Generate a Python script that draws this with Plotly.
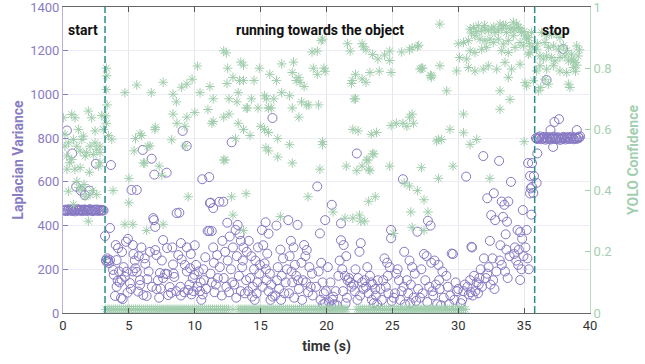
import plotly.graph_objects as go

# ---------------- data: Laplacian variance (t [s], value) ----------------
lap_start = [(0.05,470),(0.12,468),(0.2,473),(0.28,466),(0.36,471),(0.44,475),(0.52,469),(0.6,472),(0.68,467),
             (0.76,474),(0.84,470),(0.92,465),(1.0,472),(1.08,476),(1.16,468),(1.24,471),(1.32,469),(1.4,473),
             (1.48,466),(1.56,470),(1.64,474),(1.72,471),(1.8,467),(1.88,469),(1.96,472),(2.04,475),(2.12,468),
             (2.2,470),(2.28,466),(2.36,473),(2.44,471),(2.52,469),(2.6,474),(2.68,467),(2.76,470),(2.84,472),
             (2.92,468),(3.0,471),(3.08,469),
             (0.3,835),(0.7,730),(2.5,683),(1.0,578),(1.35,560),(2.0,560),(1.65,540)]

lap_run = [(3.19,352),(3.57,389),(3.26,242),(3.3,235),(3.35,250),(3.42,238),(3.57,242),(3.5,228),(3.64,677),(3.8,197),
           (3.95,78),(4.07,120),(4.07,242),(4.0,311),(3.85,175),
           (4.18,297),(4.48,279),(4.15,148),(4.3,140),(4.45,152),(4.7,166),(4.78,326),(4.93,339),(4.83,189),(4.4,69),
           (4.53,64),(4.9,93),(4.6,210),(4.25,190),
           (5.08,137),(5.3,311),(5.35,270),(5.45,240),(5.5,205),(5.6,563),(5.2,563),(5.3,190),(5.6,188),(5.84,150),
           (5.84,128),(5.7,98),(5.95,300),(5.15,110),(5.75,260),
           (6.05,746),(6.2,250),(6.5,190),(6.1,82),(6.35,78),(6.73,706),(6.93,633),(6.85,434),(6.9,425),(7.0,394),
           (6.6,280),(6.4,155),(6.75,120),(6.25,225),
           (7.0,288),(7.1,265),(7.36,183),(7.2,150),(7.6,160),(7.1,110),(7.4,112),(7.75,180),(7.9,178),(7.6,334),
           (7.9,297),(7.87,642),(7.98,82),(7.5,240),(7.3,70),
           (8.1,119),(8.3,300),(8.35,222),(8.4,180),(8.45,165),(8.63,457),(8.83,459),(8.95,320),(9.0,245),(8.9,120),
           (8.95,80),(8.2,92),(8.6,100),(8.75,265),
           (9.08,833),(9.39,764),(9.4,190),(9.25,220),(9.4,300),(9.7,270),(9.6,130),(9.9,100),(9.2,95),(9.5,105),
           (9.75,85),(9.65,205),(9.85,160),
           (10.0,310),(10.1,220),(9.97,175),(10.4,100),(10.6,85),(10.5,60),(10.57,612),(10.3,190),(10.45,140),
           (10.7,150),(10.85,110),(10.98,375),(10.8,255),(10.2,120),(10.65,200),
           (11.1,622),(11.15,503),(11.4,480),(11.2,505),(11.87,509),(11.1,376),(11.29,375),(11.4,300),(11.7,265),
           (11.2,180),(11.3,140),(11.5,95),(11.6,130),(11.9,210),(11.75,160),(11.45,230),
           (12.17,509),(12.47,413),(12.8,781),(12.1,330),(12.3,280),(12.5,240),(12.2,160),(12.4,120),(12.6,95),
           (12.75,200),(12.9,300),(12.85,140),(12.05,80),(12.65,350),
           (13.26,403),(13.1,380),(13.4,360),(13.5,330),(13.7,300),(13.2,260),(13.6,210),(13.35,170),(13.9,150),
           (13.0,130),(13.5,100),(13.8,90),(13.15,70),(13.65,240),(13.95,280),
           (14.1,330),(14.3,260),(14.5,200),(14.2,160),(14.4,120),(14.7,90),(14.6,240),(14.8,300),(14.9,180),
           (14.05,100),(14.35,75),(14.75,140),(14.55,60),(14.95,220),
           (15.38,415),(15.1,380),(15.9,892),(15.2,310),(15.5,272),(15.6,363),(15.3,227),(15.4,200),(15.7,180),
           (15.45,150),(15.8,130),(15.6,100),(15.9,75),(15.15,120),(15.75,60),
           (16.2,400),(16.5,290),(16.7,250),(16.3,210),(16.6,170),(16.9,140),(16.4,110),(16.8,90),(16.1,80),
           (16.55,60),(17.0,200),(16.25,150),
           (17.1,425),(17.8,403),(17.3,330),(17.5,300),(17.2,260),(17.6,220),(17.7,170),(17.4,140),(17.9,110),
           (17.15,90),(17.55,70),(17.85,150),(17.35,190),
           (18.3,311),(18.5,288),(18.4,260),(18.1,230),(18.7,210),(18.2,150),(18.45,140),(18.8,120),(18.6,95),
           (18.95,80),(18.15,60),(18.9,180),
           (19.3,579),(19.5,364),(19.9,425),(19.6,230),(19.4,190),(19.7,140),(19.8,90),(19.55,60),(19.9,45),
           (19.75,40),(19.2,120),(19.95,100),
           (20.4,495),(20.1,210),(20.3,140),(20.5,75),(20.2,50),(20.6,40),(20.8,35),(20.7,100),(20.45,60),
           (20.9,170),(21.0,240),(20.35,30),
           (21.1,410),(21.1,333),(21.3,311),(21.5,260),(21.2,200),(21.4,170),(21.6,150),(21.7,160),(21.8,140),
           (21.25,100),(21.55,70),(21.9,120),(21.45,45),
           (22.3,730),(22.5,280),(22.6,320),(22.2,200),(22.4,160),(22.7,140),(22.8,110),(22.15,100),(22.55,80),
           (22.9,150),(22.35,60),(22.05,130),
           (23.1,210),(23.3,170),(23.5,130),(23.7,110),(23.9,150),(23.2,90),(23.45,60),(23.6,45),(23.85,40),
           (23.0,120),(23.75,80),(23.4,140),
           (24.9,380),(24.9,342),(24.4,250),(24.6,230),(24.8,210),(24.3,150),(24.5,120),(24.7,90),(24.2,60),
           (24.95,55),(24.1,110),(24.65,170),
           (25.8,612),(25.9,280),(25.3,180),(25.5,150),(25.7,100),(25.6,60),(25.95,40),(25.2,90),(25.4,200),
           (25.85,120),(25.1,70),
           (26.9,372),(26.3,240),(26.5,210),(26.7,180),(26.4,130),(26.2,90),(26.6,70),(26.8,55),(26.1,150),
           (26.95,110),(26.35,45),
           (27.7,422),(27.9,400),(27.4,270),(27.6,260),(27.2,200),(27.5,150),(27.8,120),(27.3,90),(27.1,70),
           (27.65,50),(27.95,230),
           (28.2,240),(28.5,220),(28.8,190),(28.3,130),(28.6,110),(28.1,80),(28.4,40),(28.7,35),(28.9,70),
           (28.55,150),(28.05,100),
           (29.5,272),(29.6,270),(29.2,120),(29.4,80),(29.7,60),(29.9,100),(29.3,40),(29.8,140),(30.0,110),(29.1,170),
           (30.6,624),(31.0,303),(31.05,300),(30.4,100),(30.7,120),(30.9,150),(30.8,85),(30.3,60),(30.5,130),
           (30.95,95),(30.2,45),
           (31.9,718),(31.2,170),(31.4,140),(31.6,160),(31.8,120),(31.3,100),(31.5,90),(31.7,200),(31.1,80),
           (31.95,250),(31.55,130),
           (32.2,525),(32.7,548),(32.5,448),(32.8,425),(32.4,330),(32.6,250),(32.3,210),(32.9,190),(32.1,160),
           (32.45,130),(32.75,110),(32.2,180),(32.65,150),
           (33.1,696),(33.3,510),(33.5,495),(33.8,510),(33.4,440),(33.7,418),(33.6,360),(33.2,310),(33.65,290),
           (33.3,220),(33.15,240),(33.9,260),(33.55,190),(33.75,160),
           (34.0,600),(34.9,471),(34.5,380),(34.7,370),(34.85,340),(34.3,300),(34.6,290),(34.25,270),(34.55,220),
           (34.8,200),(34.7,151),(34.4,240),(34.95,260),
           (35.3,686),(35.45,627),(35.5,570),(35.45,547),(35.6,577),(35.75,627),(35.6,686),(35.7,549),(35.1,300),
           (35.25,250),(35.35,200),(35.55,450),(35.2,380)]

lap_stop = [(36.0,730),(35.95,595),(36.7,1066),(37.95,1208),(37.3,874),(37.65,887),(37.0,837),(39.0,837),(37.2,760),
            (35.9,800),(35.98,796),(36.06,804),(36.14,799),(36.22,808),(36.3,795),(36.38,802),(36.46,798),
            (36.54,806),(36.62,793),(36.7,801),(36.78,797),(36.86,805),(36.94,799),(37.02,794),(37.1,803),
            (37.18,798),(37.26,807),(37.34,796),(37.42,801),(37.5,795),(37.58,804),(37.66,799),(37.74,792),
            (37.82,802),(37.9,797),(37.98,806),(38.06,800),(38.14,794),(38.22,803),(38.3,798),(38.38,805),
            (38.46,796),(38.54,801),(38.62,807),(38.7,799),(38.78,795),(38.86,803),(38.94,800),(39.02,797),
            (39.1,805),(39.18,801),(39.25,808)]

# ---------------- data: YOLO confidence (t [s], confidence) ----------------
yolo_start = [(0.03,0.638),(0.66,0.649),(0.91,0.638),(1.92,0.66),(2.18,0.638),(2.94,0.645),(0.15,0.584),(0.41,0.556),
              (1.17,0.60),(1.55,0.578),(2.43,0.595),(2.43,0.556),(2.81,0.545),(3.06,0.60),(0.28,0.513),(0.66,0.502),
              (1.3,0.529),(1.8,0.524),(2.3,0.518),(2.81,0.524),(2.81,0.491),(1.3,0.475),(0.5,0.491),(1.05,0.545),
              (2.05,0.545),(2.56,0.535),(1.68,0.513),(1.43,0.567),(0.79,0.567),(0.15,0.545),(0.41,0.398),(1.05,0.43),
              (1.43,0.403),(1.68,0.38),(2.05,0.387),(2.56,0.387),(0.79,0.354),(1.92,0.30),(1.2,0.41),(1.6,0.42),
              (2.25,0.40),(0.3,0.47),(0.9,0.47),(2.0,0.46),(2.7,0.48)]

yolo_run = [(3.3,0.80),(3.28,0.73),(3.32,0.775),(3.35,0.68),(3.3,0.62),(3.45,0.58),(3.7,0.568),(3.8,0.40),(3.25,0.644),
            (4.7,0.72),(5.6,0.745),(6.7,0.72),(5.5,0.57),(5.85,0.586),(5.97,0.58),(5.4,0.53),(6.98,0.6),(6.6,0.546),
            (6.1,0.49),(6.2,0.49),(5.0,0.44),(7.3,0.48),(7.5,0.45),(5.0,0.36),(4.7,0.29),(5.3,0.29),(6.35,0.27),
            (7.6,0.29),(6.45,0.545),(7.0,0.607),
            (7.6,0.754),(8.35,0.715),(9.0,0.738),(9.4,0.748),(9.8,0.764),(10.2,0.807),(10.4,0.72),(11.15,0.74),
            (11.4,0.70),(11.0,0.665),(11.4,0.626),(8.6,0.69),(8.35,0.65),(8.65,0.62),(9.4,0.64),(9.25,0.61),
            (10.0,0.655),(8.25,0.566),(9.26,0.546),(9.5,0.38),(11.3,0.62),
            (12.2,0.857),(12.4,0.85),(12.5,0.80),(12.45,0.75),(12.9,0.77),(13.4,0.76),(13.7,0.76),(13.7,0.81),
            (14.5,0.76),(14.9,0.80),(13.5,0.82),(12.6,0.70),(13.2,0.69),(13.3,0.72),(12.6,0.65),(12.2,0.64),
            (13.9,0.67),(14.0,0.67),(14.8,0.67),(14.3,0.70),(15.45,0.70),(15.6,0.67),(13.3,0.62),(13.7,0.60),
            (14.2,0.58),(15.0,0.61),(15.6,0.59),(13.1,0.57),(12.2,0.50),(12.3,0.50),(15.6,0.53),(13.9,0.39),
            (12.8,0.38),(12.9,0.32),(13.7,0.27),
            (15.7,0.78),(16.2,0.76),(17.4,0.786),(17.9,0.77),(18.0,0.754),(18.3,0.74),(19.0,0.8),(19.3,0.78),
            (19.9,0.79),(19.8,0.8),(19.6,0.89),(18.9,0.853),(16.6,0.814),(17.5,0.82),
            (15.3,0.71),(16.0,0.70),(16.6,0.72),(15.8,0.67),(15.6,0.67),(17.4,0.67),(18.1,0.69),(18.5,0.68),
            (18.65,0.68),(19.4,0.68),(17.9,0.64),(17.2,0.71),(17.7,0.76),
            (15.3,0.6),(16.3,0.57),(17.2,0.55),(15.4,0.54),(16.3,0.51),(17.4,0.49),(19.7,0.55),(19.5,0.47),
            (18.6,0.38),(20.5,0.33),(16.5,0.315),(19.7,0.56),
            (19.7,0.895),(19.3,0.856),(21.6,0.88),(21.8,0.856),(22.2,0.78),(21.95,0.76),(21.9,0.75),(22.1,0.70),
            (22.0,0.60),(23.4,0.584),(24.9,0.613),(25.8,0.62),(26.1,0.61),(24.8,0.48),(21.5,0.48),(22.3,0.465),
            (23.15,0.50),(23.5,0.52),(24.8,0.856),(23.5,0.845),(23.9,0.83),(24.0,0.79),
            (22.7,0.88),(22.8,0.87),(23.0,0.86),(22.7,0.765),(23.0,0.754),(23.3,0.786),(22.2,0.70),(22.4,0.595),
            (23.8,0.59),
            (24.4,0.843),(24.8,0.825),(24.9,0.786),(25.7,0.853),(26.5,0.867),(27.0,0.875),(27.2,0.80),(27.95,0.77),
            (26.3,0.86),(26.9,0.87),(27.3,0.80),(27.9,0.777),
            (25.3,0.62),(26.3,0.64),(26.5,0.65),(26.6,0.62),(22.7,0.48),(23.2,0.47),(23.3,0.465),(23.05,0.50),
            (23.6,0.52),(27.2,0.475),
            (21.4,0.31),(22.0,0.31),(22.6,0.30),(22.9,0.30),(22.5,0.32),(23.2,0.365),(23.7,0.38),(25.9,0.425),
            (26.3,0.415),(26.9,0.40),(27.4,0.37),(27.7,0.33),(26.4,0.33),(26.5,0.28),(27.4,0.27),(25.1,0.26),
            (28.6,0.944),(28.61,0.808),(27.98,0.775),(27.1,0.797),(29.88,0.791),(29.12,0.726),(28.36,0.562),
            (29.37,0.60),(30.4,0.589),(30.9,0.551),(31.4,0.567),(28.49,0.567),(28.74,0.567),(29.6,0.48),
            (28.5,0.44),(32.4,0.44),(35.0,0.56),(30.0,0.88),(30.4,0.65),
            (30.9,0.928),(31.15,0.933),(31.52,0.939),(31.78,0.922),(32.03,0.928),(32.28,0.922),(32.54,0.928),
            (32.79,0.917),(33.04,0.922),(33.17,0.944),(33.42,0.939),(33.67,0.917),(33.93,0.928),(34.18,0.95),
            (34.43,0.944),(34.56,0.933),(34.81,0.917),(35.07,0.906),(35.32,0.90),(35.57,0.917),
            (30.4,0.884),(30.77,0.89),(31.27,0.906),(31.65,0.895),(32.03,0.89),(32.41,0.895),(32.66,0.884),
            (33.04,0.895),(33.42,0.879),(33.8,0.89),(34.18,0.906),(34.69,0.884),(34.94,0.873),(35.19,0.895),
            (30.9,0.857),(31.27,0.851),(31.78,0.862),(32.16,0.868),(33.3,0.857),(33.8,0.851),(34.31,0.868),
            (35.45,0.851),(30.64,0.830),(30.77,0.802),(30.1,0.835),(31.27,0.791),(31.9,0.797),(32.28,0.808),
            (32.92,0.797),(33.55,0.819),(34.05,0.797),(34.69,0.813),(35.32,0.846),
            (33.17,0.666),(33.8,0.770),(33.17,0.726),(33.93,0.698),(35.07,0.753),(35.19,0.742),
            (31.0,0.915),(31.4,0.92),(32.0,0.94),(32.7,0.935),(33.3,0.93),(33.6,0.94),(34.0,0.93),(34.3,0.925),
            (34.7,0.93),(35.0,0.92),(35.4,0.88),(35.6,0.87)]

yolo_stop = [(36.33,0.917),(36.71,0.906),(37.09,0.911),(37.47,0.911),(37.72,0.90),(36.58,0.884),(36.84,0.868),
             (37.22,0.873),(37.6,0.862),(37.98,0.873),(38.23,0.857),(38.61,0.846),(38.99,0.873),(35.95,0.862),
             (36.2,0.840),(36.46,0.830),(36.71,0.840),(37.09,0.835),(37.34,0.824),(37.72,0.835),(38.1,0.840),
             (38.36,0.824),(38.61,0.830),(38.86,0.819),(38.74,0.824),(36.2,0.808),(36.71,0.797),(37.22,0.808),
             (37.72,0.791),(38.23,0.786),(38.74,0.802),(35.95,0.791),(36.58,0.764),(36.84,0.748),(35.7,0.759),
             (38.36,0.748),(38.48,0.737),(36.08,0.726),(36.26,0.737),(39.1,0.84),(39.0,0.81),(38.9,0.79),
             (36.0,0.88),(39.2,0.86)]

# frames with no detection (confidence ~0)
yolo_zero_t = [3.25,3.4,3.55,3.7,3.85,4.0,4.15,4.3,4.45,4.6,4.75,4.9,5.05,5.2,5.35,5.5,5.65,5.8,5.95,6.1,6.25,6.4,
               6.55,6.7,6.85,7.0,7.15,7.3,7.45,7.6,7.75,7.9,8.05,8.2,8.35,8.5,8.65,8.8,8.95,9.1,9.25,9.4,9.55,9.7,
               9.85,10.0,10.15,10.3,10.45,10.6,10.75,10.9,11.05,11.2,11.35,11.5,11.65,11.8,11.95,12.1,12.25,12.4,
               12.55,12.9,13.3,13.45,13.6,13.75,13.9,14.05,14.2,14.35,14.5,14.65,14.8,14.95,15.1,15.25,15.4,15.55,
               15.7,15.85,16.0,16.15,16.3,16.45,16.6,16.75,16.9,17.05,17.2,17.35,17.5,17.65,17.8,17.95,18.1,18.25,
               18.4,18.55,18.7,18.85,19.0,19.15,19.3,19.45,19.6,19.75,19.9,20.05,20.2,20.35,20.5,20.65,20.8,20.95,
               21.1,21.25,21.4,21.55,22.3,22.45,22.6,22.75,22.9,23.05,23.2,23.35,23.5,23.65,23.8,23.95,24.1,24.25,
               24.4,24.55,24.7,24.85,25.0,25.15,25.3,25.45,25.6,25.75,25.9,26.05,26.2,26.35,26.5,26.65,26.8,26.95,
               27.1,27.25,27.4,27.55,27.7,27.85,28.0,28.15,28.3,28.45,28.6,28.75,28.9,29.05,29.2,29.35,29.5,29.65,
               29.8,29.95,30.1,30.25,30.4,30.55]
yolo_zero_c = [0.012] * len(yolo_zero_t)

phase_bounds = [3.19, 35.8]
phase_labels = [(1.5, "start"), (19.5, "running towards the object"), (37.4, "stop")]

x_ticks = [0, 5, 10, 15, 20, 25, 30, 35, 40]
lap_ticks = [0, 200, 400, 600, 800, 1000, 1200, 1400]
conf_ticks = [0, 0.2, 0.4, 0.6, 0.8, 1]

# ---------------- figure ----------------
PURPLE = "#8677c2"
PURPLE_TXT = "#8a7cc2"
GREEN = "#a0cdac"
GREEN_TXT = "#a3cfb0"
TEAL = "#2a8c8c"
FONT = "Roboto"

lap_all = lap_start + lap_run + lap_stop
yolo_all = yolo_start + yolo_run + yolo_stop
lt, lv = zip(*lap_all)
yt, yc = zip(*yolo_all)

fig = go.Figure()
fig.add_trace(go.Scatter(x=list(yt) + yolo_zero_t, y=list(yc) + yolo_zero_c, mode="markers", yaxis="y2",
                         marker=dict(symbol="asterisk-open", size=8, color=GREEN, line=dict(color=GREEN, width=1)),
                         showlegend=False))
fig.add_trace(go.Scatter(x=lt, y=lv, mode="markers",
                         marker=dict(symbol="circle-open", size=9, color=PURPLE, line=dict(color=PURPLE, width=1)),
                         showlegend=False))

for xb in phase_bounds:
    fig.add_shape(type="line", x0=xb, x1=xb, y0=0, y1=1, xref="x", yref="paper",
                  line=dict(color=TEAL, width=1.5, dash="7px,3px"))

for xl, txt in phase_labels:
    fig.add_annotation(x=xl, y=0.958, xref="x", yref="paper", text="<b>%s</b>" % txt, showarrow=False,
                       font=dict(family=FONT, size=14, color="#111111"))

fig.update_layout(
    width=645, height=364,
    margin=dict(l=63, r=55, t=7, b=51, autoexpand=False),
    paper_bgcolor="white", plot_bgcolor="white",
    font=dict(family=FONT, size=13),
    xaxis=dict(range=[0, 40], tickvals=x_ticks, ticks="inside", ticklen=5, tickcolor="#555",
               showline=True, linecolor="#666", linewidth=1, mirror="ticks", automargin=False,
               showgrid=True, gridcolor="#e6e6ea", zeroline=False, ticklabeloverflow="allow",
               tickfont=dict(color="#333", size=13),
               title=dict(text="<b>time (s)</b>", font=dict(size=14, color="#333"), standoff=9)),
    yaxis=dict(range=[0, 1400], tickvals=lap_ticks, ticks="inside", ticklen=5, tickcolor=PURPLE_TXT,
               showline=True, linecolor="#b9b0dc", linewidth=1, automargin=False,
               showgrid=True, gridcolor="#eeecf6", zeroline=False, ticklabeloverflow="allow",
               tickfont=dict(color=PURPLE_TXT, size=13),
               title=dict(text="<b>Laplacian Variance</b>", font=dict(size=14, color=PURPLE_TXT), standoff=3)),
    yaxis2=dict(range=[0, 1], tickvals=conf_ticks, overlaying="y", side="right", ticks="inside", ticklen=5,
                tickcolor=GREEN_TXT, showline=True, linecolor="#b7dcc2", linewidth=1, automargin=False,
                showgrid=False, zeroline=False, ticklabeloverflow="allow",
                tickfont=dict(color=GREEN_TXT, size=13),
                title=dict(text="<b>YOLO Confidence</b>", font=dict(size=14, color=GREEN_TXT), standoff=16)),
)

fig.write_html("out.html", config={"displayModeBar": False},
               post_script="document.body.style.margin='0';")
